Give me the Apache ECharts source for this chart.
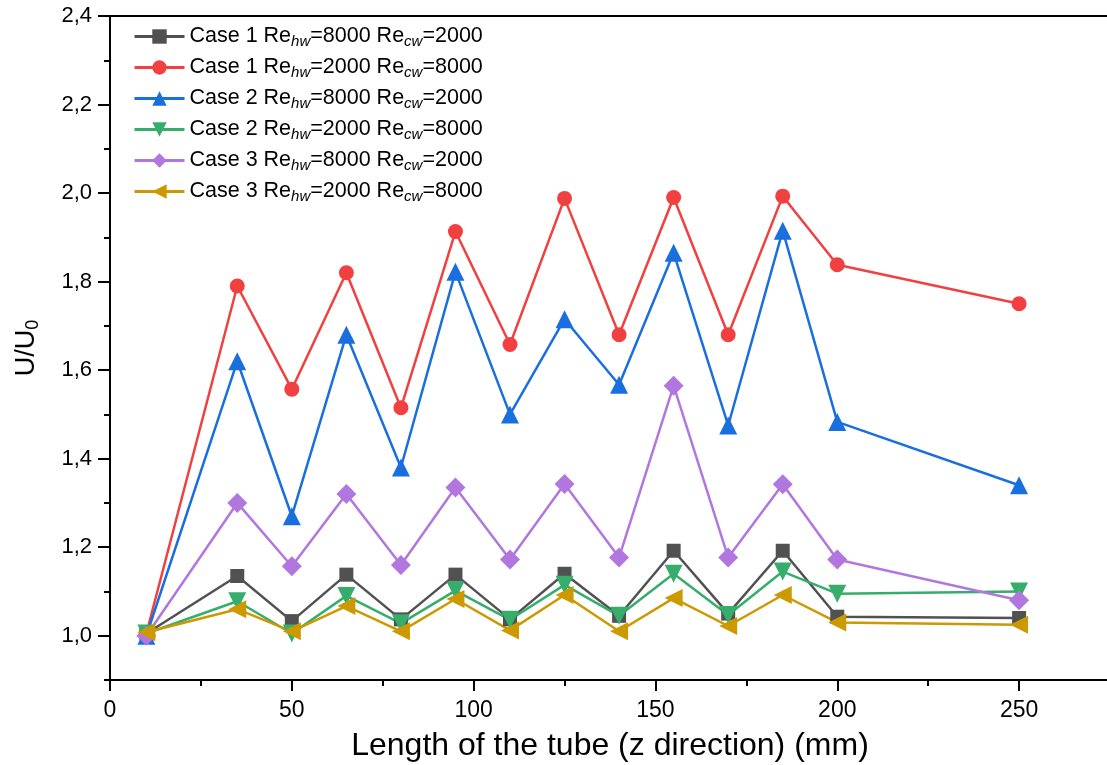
<!DOCTYPE html>
<html>
<head>
<meta charset="utf-8">
<script src="https://cdn.jsdelivr.net/npm/echarts@6/dist/echarts.min.js"></script>
<style>html,body{margin:0;padding:0;background:#fff}#c{width:1107px;height:765px}</style>
</head>
<body>
<div id="c"></div>
<script>
const xPositions = [10, 35, 50, 65, 80, 95, 110, 125, 140, 155, 170, 185, 200, 250];
const case1_hw8000 = [1.005, 1.135, 1.033, 1.138, 1.037, 1.138, 1.037, 1.140, 1.045, 1.192, 1.050, 1.192, 1.043, 1.040];
const case1_hw2000 = [1.005, 1.790, 1.557, 1.820, 1.515, 1.913, 1.658, 1.988, 1.680, 1.990, 1.680, 1.993, 1.838, 1.750];
const case2_hw8000 = [1.000, 1.620, 1.270, 1.680, 1.380, 1.822, 1.500, 1.715, 1.567, 1.865, 1.475, 1.915, 1.483, 1.340];
const case2_hw2000 = [1.005, 1.078, 1.005, 1.090, 1.028, 1.102, 1.036, 1.115, 1.045, 1.140, 1.047, 1.145, 1.095, 1.100];
const case3_hw8000 = [1.000, 1.300, 1.157, 1.320, 1.160, 1.335, 1.172, 1.343, 1.177, 1.565, 1.177, 1.342, 1.172, 1.080];
const case3_hw2000 = [1.008, 1.060, 1.010, 1.067, 1.010, 1.083, 1.012, 1.092, 1.010, 1.085, 1.022, 1.092, 1.030, 1.025];
const seriesNames = [
  'Case 1 Re_hw=8000 Re_cw=2000',
  'Case 1 Re_hw=2000 Re_cw=8000',
  'Case 2 Re_hw=8000 Re_cw=2000',
  'Case 2 Re_hw=2000 Re_cw=8000',
  'Case 3 Re_hw=8000 Re_cw=2000',
  'Case 3 Re_hw=2000 Re_cw=8000'
];
const xMajorTicks = [0, 50, 100, 150, 200, 250];
const xMinorTicks = [25, 75, 125, 175, 225, 275];
const yMajorTicks = [1.0, 1.2, 1.4, 1.6, 1.8, 2.0, 2.2, 2.4];
const yMinorTicks = [0.9, 1.1, 1.3, 1.5, 1.7, 1.9, 2.1, 2.3];

const FONT = "'Liberation Sans', Arial, sans-serif";
const colors = ['#515151', '#F14040', '#1A6FDF', '#37AD6B', '#B177DE', '#CC9900'];
const symbols = [
  {symbol: 'rect', symbolSize: 14, symbolRotate: 0},
  {symbol: 'circle', symbolSize: 15, symbolRotate: 0},
  {symbol: 'triangle', symbolSize: 18, symbolRotate: 0},
  {symbol: 'triangle', symbolSize: 18, symbolRotate: 180},
  {symbol: 'diamond', symbolSize: 20, symbolRotate: 0},
  {symbol: 'triangle', symbolSize: 18, symbolRotate: 90}
];
const allData = [case1_hw8000, case1_hw2000, case2_hw8000, case2_hw2000, case3_hw8000, case3_hw2000];

const series = allData.map((vals, i) => ({
  name: seriesNames[i],
  type: 'line',
  xAxisIndex: 0,
  yAxisIndex: 0,
  data: xPositions.map((x, j) => [x, vals[j]]),
  color: colors[i],
  lineStyle: {width: 2.5, color: colors[i]},
  itemStyle: {color: colors[i]},
  symbol: symbols[i].symbol,
  symbolSize: symbols[i].symbolSize,
  symbolRotate: symbols[i].symbolRotate,
  showAllSymbol: true,
  animation: false
}));

const axisCommon = {
  axisLine: {show: true, onZero: false, lineStyle: {color: '#000', width: 2}},
  splitLine: {show: false}
};
const chart = echarts.init(document.getElementById('c'), null, {renderer: 'canvas'});
chart.setOption({
  backgroundColor: '#fff',
  animation: false,
  grid: {left: 110, top: 16, right: -3, bottom: 85, containLabel: false, outerBoundsMode: 'none'},
  legend: {
    orient: 'vertical',
    left: 128,
    top: 19,
    padding: 5,
    itemWidth: 50,
    itemHeight: 18,
    itemGap: 6,
    data: seriesNames,
    lineStyle: {width: 3},
    formatter: n => n.replace(/_(\w+)=/g, '{s|$1}='),
    textStyle: {
      fontFamily: FONT, fontSize: 21.5, color: '#000', lineHeight: 25, padding: [0, 0, 0, 0],
      rich: {s: {fontFamily: FONT, fontSize: 15, fontStyle: 'italic', color: '#000', lineHeight: 25, padding: [10, 0, 0, 0]}}
    }
  },
  xAxis: [
    Object.assign({}, axisCommon, {
      type: 'value', min: 0, max: 275, position: 'bottom',
      name: 'Length of the tube (z direction) (mm)',
      nameLocation: 'middle', nameGap: 50,
      nameTextStyle: {fontFamily: FONT, fontSize: 32, color: '#000'},
      axisTick: {show: true, inside: false, length: 11, customValues: xMajorTicks, lineStyle: {color: '#000', width: 2}},
      axisLabel: {show: true, customValues: xMajorTicks, margin: 19, fontFamily: FONT, fontSize: 23, color: '#000'}
    }),
    {
      type: 'value', min: 0, max: 275, position: 'bottom',
      axisLine: {show: false}, splitLine: {show: false}, axisLabel: {show: false},
      axisTick: {show: true, length: 6, customValues: xMinorTicks, lineStyle: {color: '#000', width: 2}}
    },
    {
      type: 'value', min: 0, max: 275, position: 'top',
      axisLine: {show: true, lineStyle: {color: '#000', width: 2}},
      splitLine: {show: false}, axisLabel: {show: false}, axisTick: {show: false}
    }
  ],
  yAxis: [
    Object.assign({}, axisCommon, {
      type: 'value', min: 0.9, max: 2.4, position: 'left',
      name: 'U/U{s|0}',
      nameLocation: 'middle', nameGap: 68, nameRotate: 90,
      nameTextStyle: {fontFamily: FONT, fontSize: 27, color: '#000',
        rich: {s: {fontFamily: FONT, fontSize: 18, color: '#000', padding: [12, 0, 0, 0]}}},
      axisTick: {show: true, length: 12, customValues: yMajorTicks, lineStyle: {color: '#000', width: 2}},
      axisLabel: {show: true, customValues: yMajorTicks, margin: 18, fontFamily: FONT, fontSize: 22, color: '#000',
        formatter: v => v.toFixed(1).replace('.', ',')}
    }),
    {
      type: 'value', min: 0.9, max: 2.4, position: 'left',
      axisLine: {show: false}, splitLine: {show: false}, axisLabel: {show: false},
      axisTick: {show: true, length: 6, customValues: yMinorTicks, lineStyle: {color: '#000', width: 2}}
    }
  ],
  series: series
});
</script>
</body>
</html>
